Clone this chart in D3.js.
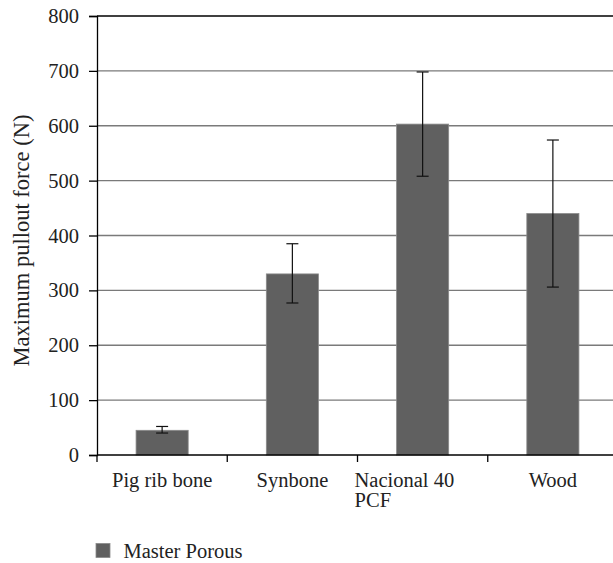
<!DOCTYPE html>
<html>
<head>
<meta charset="utf-8">
<script src="https://cdn.jsdelivr.net/npm/d3@7"></script>
<style>
  body { margin: 0; background: #fff; }
  text { font-family: "Liberation Serif", "DejaVu Serif", serif; fill: #222; }
</style>
</head>
<body>
<div id="chart"></div>
<script>
// values
const categories = ['Pig rib bone', 'Synbone', 'Nacional 40\nPCF', 'Wood']
const means = [45, 330, 603, 440]
const errLow = [40, 277, 508, 306]
const errHigh = [52, 385, 698, 574]
const yTicks = [0, 100, 200, 300, 400, 500, 600, 700, 800]
const seriesName = 'Master Porous'

const width = 613, height = 563
const margin = { left: 97, top: 16, right: -5, bottom: 108 }
const fs = '20.5px'

let svg = d3.select('#chart')
  .append('svg')
  .attr('width', width)
  .attr('height', height)

let x = d3.scaleBand()
  .domain(categories)
  .range([margin.left, width - margin.right])
  .padding(0)

let y = d3.scaleLinear()
  .domain([0, 800])
  .range([height - margin.bottom, margin.top])

// gridlines
svg.append('g')
  .selectAll('line')
  .data(yTicks.filter(d => d > 0))
  .enter().append('line')
  .attr('x1', margin.left)
  .attr('x2', width)
  .attr('y1', d => y(d))
  .attr('y2', d => y(d))
  .attr('stroke', d => d == 800 ? '#000' : '#7a7a7a')
  .attr('stroke-width', 1.3)

// bars
let barW = x.bandwidth() * 0.4
svg.append('g')
  .selectAll('rect')
  .data(means)
  .enter().append('rect')
  .attr('x', (d, i) => x(categories[i]) + x.bandwidth() / 2 - barW / 2)
  .attr('y', d => y(d))
  .attr('width', barW)
  .attr('height', d => y(0) - y(d))
  .attr('fill', '#606060')
  .attr('stroke', '#8a8a8a')
  .attr('stroke-width', 0.8)

// error bars
let err = svg.append('g')
  .selectAll('g')
  .data(means)
  .enter().append('g')
err.append('line')
  .attr('x1', (d, i) => x(categories[i]) + x.bandwidth() / 2)
  .attr('x2', (d, i) => x(categories[i]) + x.bandwidth() / 2)
  .attr('y1', (d, i) => y(errLow[i]))
  .attr('y2', (d, i) => y(errHigh[i]))
  .attr('stroke', '#111')
  .attr('stroke-width', 1.2)
;[errLow, errHigh].forEach(arr => {
  err.append('line')
    .attr('x1', (d, i) => x(categories[i]) + x.bandwidth() / 2 - 6)
    .attr('x2', (d, i) => x(categories[i]) + x.bandwidth() / 2 + 6)
    .attr('y1', (d, i) => y(arr[i]))
    .attr('y2', (d, i) => y(arr[i]))
    .attr('stroke', '#111')
    .attr('stroke-width', 1.2)
})

// y axis
let yAxis = svg.append('g')
  .attr('transform', `translate(${margin.left},0)`)
  .call(d3.axisLeft(y).tickValues(yTicks).tickSize(8).tickPadding(10))
yAxis.select('.domain').attr('stroke', '#000').attr('stroke-width', 1.3)
yAxis.selectAll('.tick line').attr('stroke', '#000').attr('stroke-width', 1.3)
yAxis.selectAll('text')
  .style('font-family', '"Liberation Serif", serif')
  .style('font-size', fs)
  .attr('fill', '#222')

// x axis (ticks between the bands)
let xAxisG = svg.append('g')
  .attr('transform', `translate(0,${y(0)})`)
xAxisG.append('line')
  .attr('x1', margin.left).attr('x2', width)
  .attr('stroke', '#000').attr('stroke-width', 1.3)
xAxisG.selectAll('.sep')
  .data(categories.concat(['end']))
  .enter().append('line')
  .attr('x1', (d, i) => margin.left + i * x.bandwidth())
  .attr('x2', (d, i) => margin.left + i * x.bandwidth())
  .attr('y1', 0).attr('y2', 7)
  .attr('stroke', '#000').attr('stroke-width', 1.3)

// category labels, multi-line left aligned in a centred block
categories.forEach((c, i) => {
  let lines = c.split('\n')
  let t = svg.append('text')
    .attr('font-size', fs)
    .attr('y', y(0) + 32)
  lines.forEach((l, j) => {
    t.append('tspan').text(l).attr('dy', j == 0 ? 0 : 20)
  })
  let w = t.node().getBBox().width
  let cx = x(c) + x.bandwidth() / 2
  t.selectAll('tspan').attr('x', cx - w / 2)
})

// y label
svg.append('text')
  .attr('transform', `translate(29,${(y(0) + y(800)) / 2 + 5}) rotate(-90)`)
  .attr('text-anchor', 'middle')
  .attr('font-size', '22.5px')
  .text('Maximum pullout force (N)')

// legend
let legend = svg.append('g').attr('transform', 'translate(96,543.5)')
legend.append('rect')
  .attr('width', 14).attr('height', 14)
  .attr('fill', '#606060')
  .attr('stroke', '#8a8a8a').attr('stroke-width', 0.8)
legend.append('text')
  .attr('x', 27.5).attr('y', 14.5)
  .attr('font-size', fs)
  .text(seriesName)
</script>
</body>
</html>
